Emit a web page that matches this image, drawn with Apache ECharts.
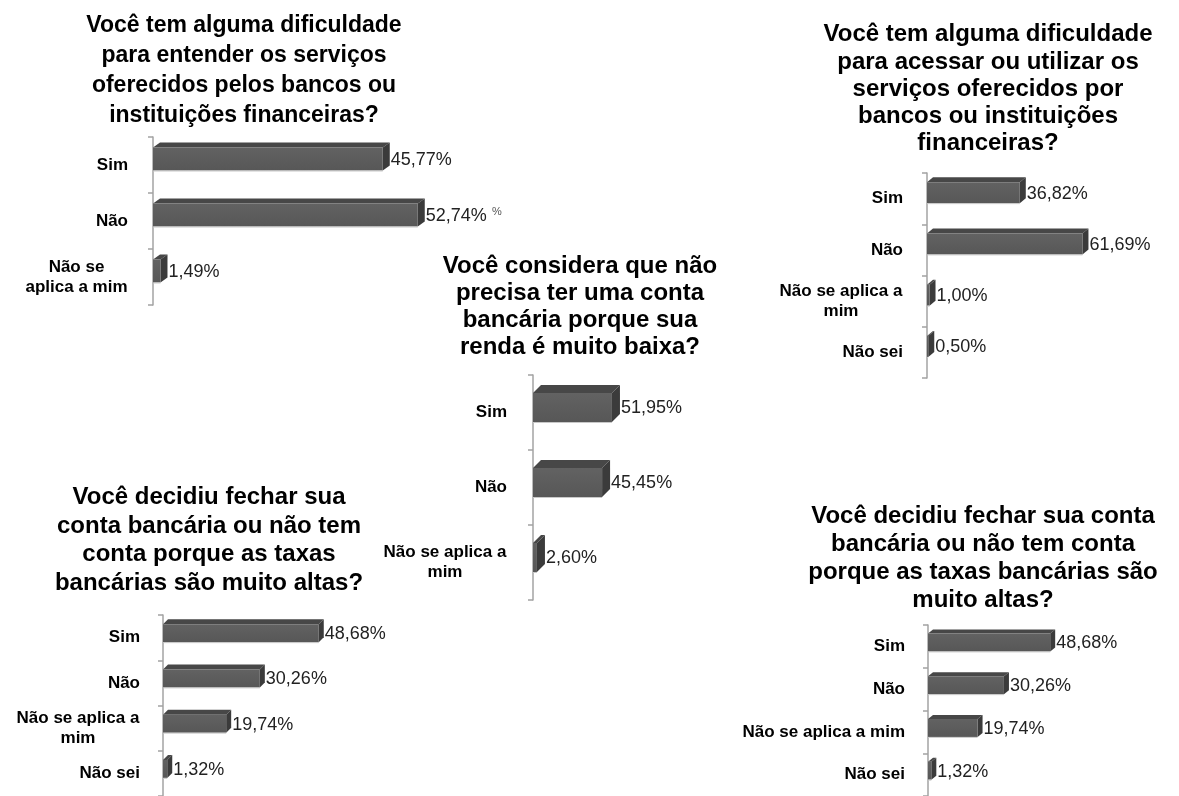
<!DOCTYPE html>
<html>
<head>
<meta charset="utf-8">
<style>
  html, body { margin: 0; padding: 0; background: #fff; }
  #chart { width: 1179px; height: 796px; }
</style>
<script src="https://cdn.jsdelivr.net/npm/echarts@6/dist/echarts.min.js"></script>
</head>
<body>
<div id="chart"></div>
<script>
// values, one block per question
const entenderCats = ['Sim', 'Não', 'Não se\naplica a mim']
const entenderVals = [45.77, 52.74, 1.49]

const acessarCats = ['Sim', 'Não', 'Não se aplica a\nmim', 'Não sei']
const acessarVals = [36.82, 61.69, 1.00, 0.50]

const rendaCats = ['Sim', 'Não', 'Não se aplica a\nmim']
const rendaVals = [51.95, 45.45, 2.60]

const taxasCatsLeft = ['Sim', 'Não', 'Não se aplica a\nmim', 'Não sei']
const taxasCatsRight = ['Sim', 'Não', 'Não se aplica a mim', 'Não sei']
const taxasVals = [48.68, 30.26, 19.74, 1.32]

const FONT = '"Liberation Sans", Arial, sans-serif'

// layout of each small chart (pixels)
const panels = [
  {
    title: 'Você tem alguma dificuldade\npara entender os serviços\noferecidos pelos bancos ou\ninstituições financeiras?',
    tx: 244, ty: 11, tlh: 30, tsize: 23,
    cats: entenderCats, vals: entenderVals,
    grid: { left: 153, top: 137, width: 502, height: 168 },
    offset: 6, margin: 19, blockW: 103,
    bar: { h: 23, off: 5.5, dx: 7, dy: 5 },
  },
  {
    title: 'Você tem alguma dificuldade\npara acessar ou utilizar os\nserviços oferecidos por\nbancos ou instituições\nfinanceiras?',
    tx: 988, ty: 21, tlh: 27.3, tsize: 24,
    cats: acessarCats, vals: acessarVals,
    grid: { left: 927, top: 173, width: 255, height: 205 },
    offset: 7, margin: 17, blockW: 124,
    bar: { h: 21, off: 4.5, dx: 6, dy: 5 },
  },
  {
    title: 'Você considera que não\nprecisa ter uma conta\nbancária porque sua\nrenda é muito baixa?',
    tx: 580, ty: 253, tlh: 27, tsize: 24,
    cats: rendaCats, vals: rendaVals,
    grid: { left: 533, top: 375, width: 152, height: 225 },
    offset: 10, margin: 16, blockW: 124,
    bar: { h: 29, off: 9.5, dx: 8, dy: 8 },
  },
  {
    title: 'Você decidiu fechar sua\nconta bancária ou não tem\nconta porque as taxas\nbancárias são muito altas?',
    tx: 209, ty: 483, tlh: 28.7, tsize: 24,
    cats: taxasCatsLeft, vals: taxasVals,
    grid: { left: 163, top: 615, width: 320, height: 186 },
    offset: 5, margin: 18, blockW: 124,
    bar: { h: 18, off: 4.5, dx: 5, dy: 5 },
  },
  {
    title: 'Você decidiu fechar sua conta\nbancária ou não tem conta\nporque as taxas bancárias são\nmuito altas?',
    tx: 983, ty: 503, tlh: 27.7, tsize: 24,
    cats: taxasCatsRight, vals: taxasVals,
    grid: { left: 928, top: 625, width: 364, height: 176 },
    offset: 5, margin: 18, blockW: 124,
    bar: { h: 18, off: 5, dx: 5, dy: 4 },
  },
]

function fmtPct(v) {
  return v.toFixed(2).replace('.', ',') + '%'
}

// fake 3D bar: front face, slanted top and right side
function bar3d(b) {
  return function (params, api) {
    const v = api.value(0)
    const cat = api.value(1)
    const p0 = api.coord([0, cat])
    const p1 = api.coord([v, cat])
    const x0 = p0[0]
    const x1 = p1[0]
    const yb = p0[1] + b.off
    const yt = yb - b.h
    return {
      type: 'group',
      children: [
        {
          type: 'polygon',
          shape: { points: [[x0, yt], [x0 + b.dx, yt - b.dy], [x1 + b.dx, yt - b.dy], [x1, yt]] },
          style: { fill: '#474747' },
        },
        {
          type: 'polygon',
          shape: { points: [[x1, yt], [x1 + b.dx, yt - b.dy], [x1 + b.dx, yb - b.dy], [x1, yb]] },
          style: { fill: '#3b3b3b' },
        },
        {
          type: 'rect',
          shape: { x: x0, y: yt, width: x1 - x0, height: b.h },
          style: {
            fill: new echarts.graphic.LinearGradient(0, 0, 0, 1, [
              { offset: 0, color: '#626262' },
              { offset: 1, color: '#575757' },
            ]),
          },
        },
        {
          type: 'line',
          shape: { x1: x0, y1: yb + 0.5, x2: x1, y2: yb + 0.5 },
          style: { stroke: '#c8c8c8', lineWidth: 1 },
        },
        {
          type: 'text',
          style: {
            text: fmtPct(v),
            x: x1 + b.dx + 1,
            y: yt + b.h / 2 + 1,
            verticalAlign: 'middle',
            align: 'left',
            font: '18px ' + FONT,
            fill: '#222',
          },
        },
      ],
    }
  }
}

const chart = echarts.init(document.getElementById('chart'))

const option = {
  backgroundColor: '#fff',
  animation: false,
  title: panels.map(p => ({
    text: p.title,
    left: p.tx,
    top: p.ty,
    textAlign: 'center',
    padding: 0,
    textStyle: {
      fontFamily: FONT,
      fontSize: p.tsize,
      fontWeight: 'bold',
      lineHeight: p.tlh,
      color: '#000',
    },
  })),
  grid: panels.map(p => ({ ...p.grid, containLabel: false })),
  xAxis: panels.map((p, i) => ({
    gridIndex: i,
    type: 'value',
    min: 0,
    max: 100,
    show: false,
  })),
  yAxis: panels.map((p, i) => ({
    gridIndex: i,
    type: 'category',
    data: p.cats,
    inverse: true,
    offset: p.offset,
    axisLine: { show: true, lineStyle: { color: '#a3a3a3', width: 1.5 } },
    axisTick: { show: true, length: 5, lineStyle: { color: '#a3a3a3', width: 1.5 } },
    splitLine: { show: false },
    axisLabel: {
      margin: p.margin,
      fontFamily: FONT,
      fontSize: 17,
      fontWeight: 'bold',
      color: '#000',
      lineHeight: 20,
      formatter: s => (s.includes('\n') ? s.split('\n').map(l => '{c|' + l + '}').join('\n') : s),
      rich: {
        c: {
          width: p.blockW,
          align: 'center',
          fontFamily: FONT,
          fontSize: 17,
          fontWeight: 'bold',
          color: '#000',
          lineHeight: 20,
        },
      },
    },
  })),
  series: panels.map((p, i) => ({
    type: 'custom',
    xAxisIndex: i,
    yAxisIndex: i,
    renderItem: bar3d(p.bar),
    encode: { x: 0, y: 1 },
    data: p.vals.map((v, k) => [v, k]),
  })),
  graphic: [
    {
      type: 'text',
      left: 492,
      top: 206,
      style: { text: '%', font: '11px ' + FONT, fill: '#555' },
    },
  ],
}

chart.setOption(option)
</script>
</body>
</html>
